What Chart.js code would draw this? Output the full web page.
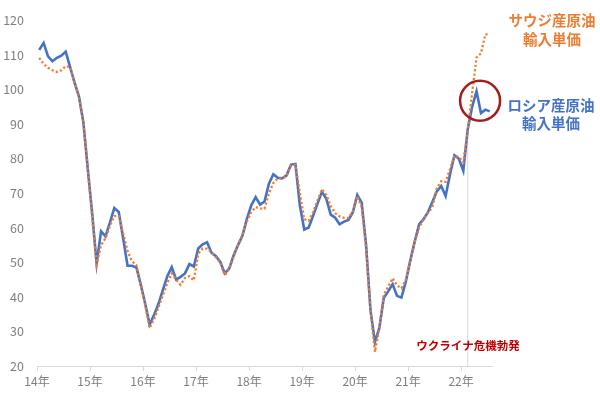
<!DOCTYPE html>
<html>
<head>
<meta charset="utf-8">
<script src="https://cdn.jsdelivr.net/npm/chart.js@4/dist/chart.umd.min.js"></script>
<style>
  html, body { margin: 0; padding: 0; background: #fff; }
  #wrap { width: 600px; height: 394px; position: relative; }
</style>
</head>
<body>
<div id="wrap"><canvas id="chart" width="600" height="394"></canvas></div>
<script>
// monthly import unit prices, Jan 2014 .. Jul 2022
const russia = [
  111.5, 113.5, 109.6, 108.2, 109.2, 109.8, 111.0, 106.5, 102.0, 98.0, 90.5, 77.0,
  64.0, 49.6, 59.0, 57.5, 61.5, 65.7, 64.6, 57.0, 49.0, 49.0, 48.5, 43.5,
  38.0, 32.0, 34.8, 38.0, 42.0, 46.0, 48.6, 45.0, 45.8, 46.8, 49.5, 48.8,
  54.0, 55.2, 55.8, 52.8, 51.8, 50.1, 46.8, 48.2, 52.0, 55.0, 57.7, 62.5,
  66.5, 68.9, 66.7, 67.6, 72.8, 75.5, 74.5, 74.3, 75.2, 78.3, 78.5, 66.5,
  59.5, 60.1, 63.5, 67.0, 70.4, 68.4, 63.8, 62.9, 61.0, 61.8, 62.3, 64.5,
  69.5, 67.3, 55.0, 36.0, 26.9, 31.0, 39.7, 41.6, 43.7, 40.3, 39.8, 44.5,
  50.5, 56.0, 61.0, 62.5, 64.5, 67.5, 70.5, 72.1, 69.2, 75.5, 81.0, 80.0,
  76.5, 88.5, 95.0, 99.5, 93.2, 94.2, 93.7
]
const saudi = [
  109.2, 107.4, 106.3, 105.6, 105.1, 105.6, 106.8, 106.5, 102.0, 98.0, 90.5, 77.0,
  63.0, 49.3, 55.0, 57.0, 60.5, 63.4, 63.4, 58.4, 53.3, 50.3, 49.2, 43.5,
  37.5, 31.0, 33.5, 37.0, 40.5, 44.0, 46.8, 45.0, 43.5, 45.5, 46.0, 44.8,
  52.5, 54.0, 54.0, 52.8, 51.5, 49.8, 46.3, 48.0, 51.5, 55.0, 58.0, 61.8,
  64.5, 66.0, 65.6, 65.5, 70.0, 73.0, 74.3, 74.3, 75.0, 78.0, 78.3, 70.0,
  62.5, 62.0, 64.5, 68.0, 71.1, 69.5, 66.3, 64.2, 63.3, 62.9, 62.9, 64.8,
  69.2, 66.0, 54.0, 36.0, 24.1, 31.0, 40.6, 43.0, 45.4, 43.3, 42.5, 45.0,
  50.5, 56.0, 60.0, 62.5, 64.3, 66.0, 71.5, 73.5, 73.3, 77.0, 80.9, 80.5,
  79.0, 88.0, 99.0, 109.3, 110.5, 116.0, 116.0
]
const yearLabels = ['14年', '15年', '16年', '17年', '18年', '19年', '20年', '21年', '22年']
const crisisMonth = 97   // Feb 2022
const crisisLine = [20, 90]
const peakMonth = 99     // Apr 2022

const pts = arr => arr.map((v, i) => ({ x: i + 0.5, y: v }))

const notes = {
  id: 'notes',
  afterDatasetsDraw(chart) {
    const { ctx, scales: { x, y } } = chart
    ctx.save()
    // circle round the Russian peak
    ctx.beginPath()
    ctx.arc(x.getPixelForValue(peakMonth + 1.3), y.getPixelForValue(russia[peakMonth] - 2.7), 20, 0, Math.PI * 2)
    ctx.strokeStyle = '#a61c1c'
    ctx.lineWidth = 2.5
    ctx.stroke()

    ctx.textAlign = 'center'
    ctx.textBaseline = 'middle'
    ctx.font = 'bold 14.5px "Noto Sans CJK JP"'
    ctx.fillStyle = '#ed7d31'
    ctx.fillText('サウジ産原油', 552, 20)
    ctx.fillText('輸入単価', 552, 39)
    ctx.fillStyle = '#4472c4'
    ctx.fillText('ロシア産原油', 551, 105)
    ctx.fillText('輸入単価', 551, 123)

    ctx.font = 'bold 11.5px "Noto Sans CJK JP"'
    ctx.fillStyle = '#c00000'
    ctx.fillText('ウクライナ危機勃発', 468, 346)
    ctx.restore()
  }
}

new Chart(document.getElementById('chart'), {
  type: 'line',
  data: {
    datasets: [
      {
        label: 'サウジ産原油輸入単価',
        data: pts(saudi),
        borderColor: '#ed7d31',
        borderWidth: 2.3,
        borderDash: [2.2, 2.2],
        pointRadius: 0,
        tension: 0
      },
      {
        label: 'ロシア産原油輸入単価',
        data: pts(russia),
        borderColor: '#4472c4',
        borderWidth: 2.6,
        pointRadius: 0,
        tension: 0
      },
      {
        label: 'crisis',
        data: crisisLine.map(v => ({ x: crisisMonth + 0.5, y: v })),
        borderColor: '#d9d9d9',
        borderWidth: 1,
        pointRadius: 0
      }
    ]
  },
  options: {
    responsive: false,
    animation: false,
    layout: { padding: { left: 0, right: 108, top: 14, bottom: 0 } },
    plugins: {
      legend: { display: false },
      tooltip: { enabled: false }
    },
    scales: {
      x: {
        type: 'linear',
        min: 0,
        max: 103,
        afterBuildTicks: s => { s.ticks = yearLabels.map((_, k) => ({ value: k * 12 })) },
        afterFit: s => { s.height = 28 },
        grid: { display: true, drawOnChartArea: false, drawTicks: true, tickLength: 5, color: '#d9d9d9' },
        border: { display: true, color: '#d9d9d9' },
        ticks: {
          callback: v => yearLabels[Math.round(v / 12)],
          color: '#7f7f7f',
          font: { family: '"Noto Sans CJK JP"', size: 12 },
          padding: 3,
          maxRotation: 0,
          autoSkip: false
        }
      },
      y: {
        min: 20,
        max: 120,
        afterFit: s => { s.width = 37 },
        grid: { display: false, drawTicks: false },
        border: { display: false },
        ticks: {
          stepSize: 10,
          color: '#7f7f7f',
          font: { family: '"Noto Sans CJK JP"', size: 12.5 },
          padding: 13
        }
      }
    }
  },
  plugins: [notes]
})
</script>
</body>
</html>
